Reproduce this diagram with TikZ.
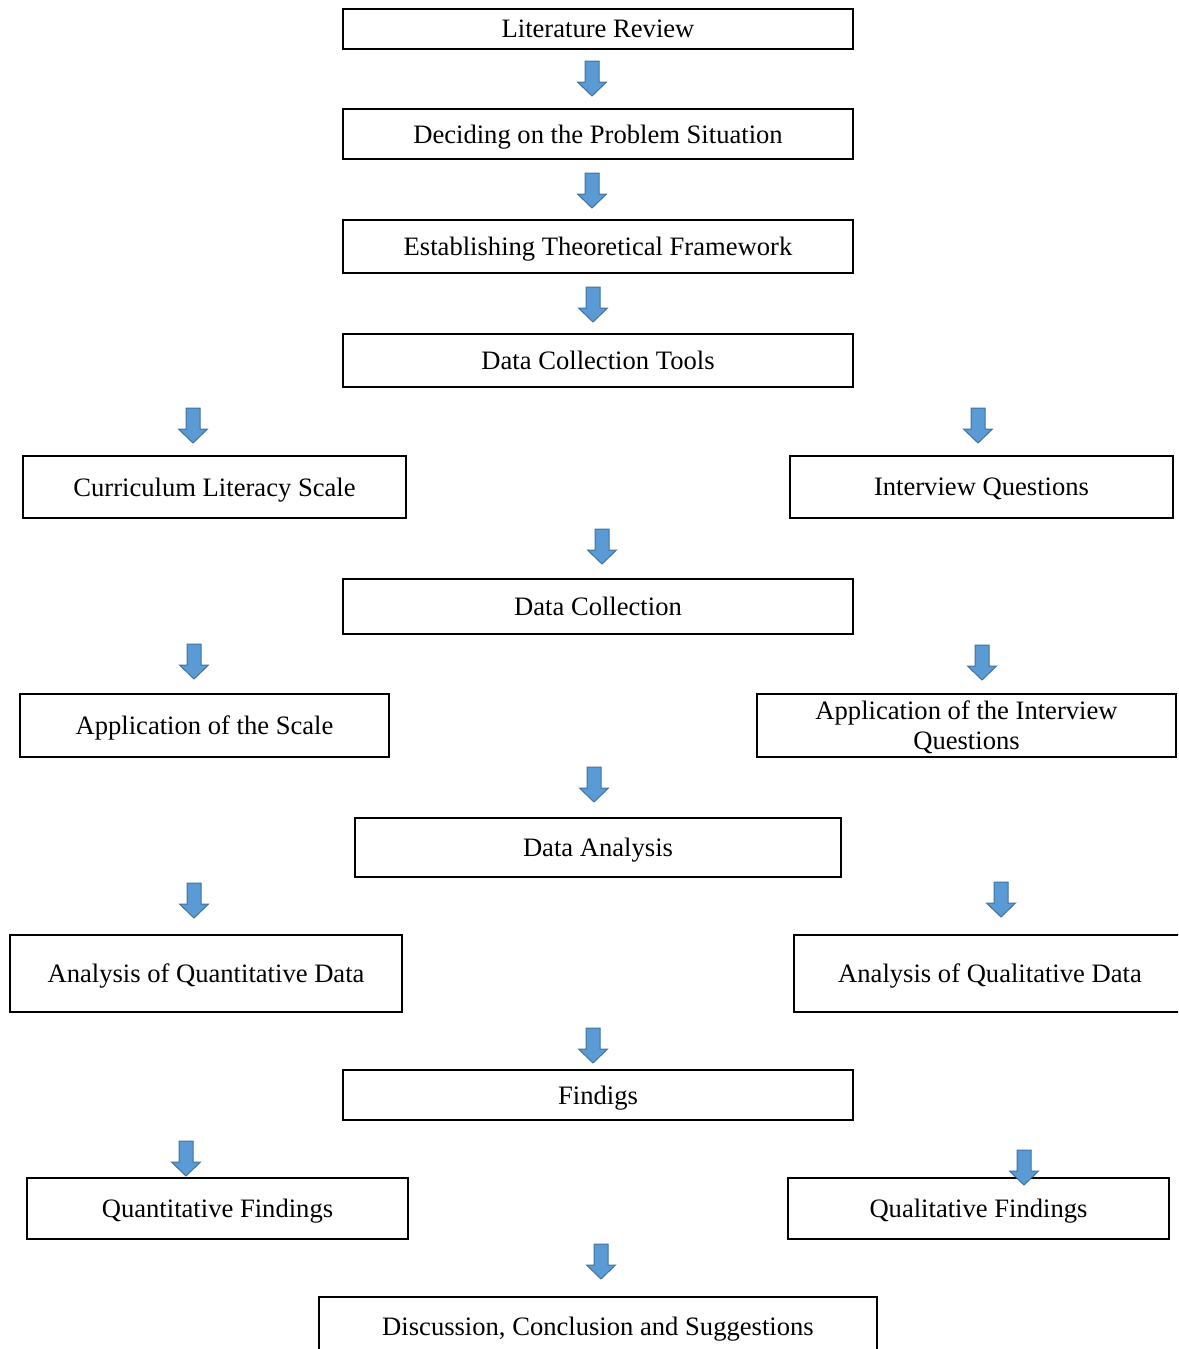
\documentclass[tikz,border=0pt]{standalone}
\usepackage{fontspec}
\setmainfont{Liberation Serif}
\begin{document}
\begin{tikzpicture}[x=1pt,y=-1pt,
  box/.style={draw=black, line width=1.6pt, inner sep=0pt, align=center,
    font=\fontsize{26.6}{30}\selectfont, text depth=0pt},
  barrow/.style={fill={rgb,255:red,91;green,155;blue,213}, draw={rgb,255:red,65;green,113;blue,156}, line width=1pt, line join=miter}]
\useasboundingbox (0,0) rectangle (1178,1349);
\clip (0,0) rectangle (1178,1349);
\newcommand{\blkarrow}[2]{\draw[barrow] (#1-7,#2) -- (#1+7,#2) -- (#1+7,#2+21) -- (#1+14.5,#2+21) -- (#1,#2+35) -- (#1-14.5,#2+21) -- (#1-7,#2+21) -- cycle;}
% boxes
\node[box, minimum width=510, minimum height=40] (lit) at (598,29) {Literature Review};
\node[box, minimum width=510, minimum height=50] (prob) at (598,134) {Deciding on the Problem Situation};
\node[box, minimum width=510, minimum height=53] (theo) at (598,246.5) {Establishing Theoretical Framework};
\node[box, minimum width=510, minimum height=53] (tools) at (598,360.5) {Data Collection Tools};
\node[box, minimum width=383, minimum height=62] (cls) at (214.5,487) {Curriculum Literacy Scale};
\node[box, minimum width=383, minimum height=62] (iq) at (981.5,487) {Interview Questions};
\node[box, minimum width=510, minimum height=55] (dc) at (598,606.5) {Data Collection};
\node[box, minimum width=369, minimum height=63] (aps) at (204.5,725.5) {Application of the Scale};
\node[box, minimum width=419, minimum height=63] (apiq) at (966.5,725.5) {Application of the Interview\\Questions};
\node[box, minimum width=486, minimum height=59] (da) at (598,847.5) {Data Analysis};
\node[box, minimum width=392, minimum height=77] (aqn) at (206,973.5) {Analysis of Quantitative Data};
\node[box, minimum width=392, minimum height=77] (aql) at (990,973.5) {Analysis of Qualitative Data};
\node[box, minimum width=510, minimum height=50] (fin) at (598,1095) {Findigs};
\node[box, minimum width=381, minimum height=61] (qnf) at (217.5,1208.5) {Quantitative Findings};
\node[box, minimum width=381, minimum height=61] (qlf) at (978.5,1208.5) {Qualitative Findings};
\node[box, minimum width=558, minimum height=58] (disc) at (598,1326) {Discussion, Conclusion and Suggestions};
% block arrows
\blkarrow{592}{61}
\blkarrow{592}{173}
\blkarrow{593}{287}
\blkarrow{193}{408}
\blkarrow{978}{408}
\blkarrow{602}{529}
\blkarrow{194}{644}
\blkarrow{982}{645}
\blkarrow{594}{767}
\blkarrow{194}{883}
\blkarrow{1001}{882}
\blkarrow{593}{1028}
\blkarrow{186}{1141}
\blkarrow{1024}{1150}
\blkarrow{601}{1244}
\end{tikzpicture}
\end{document}
